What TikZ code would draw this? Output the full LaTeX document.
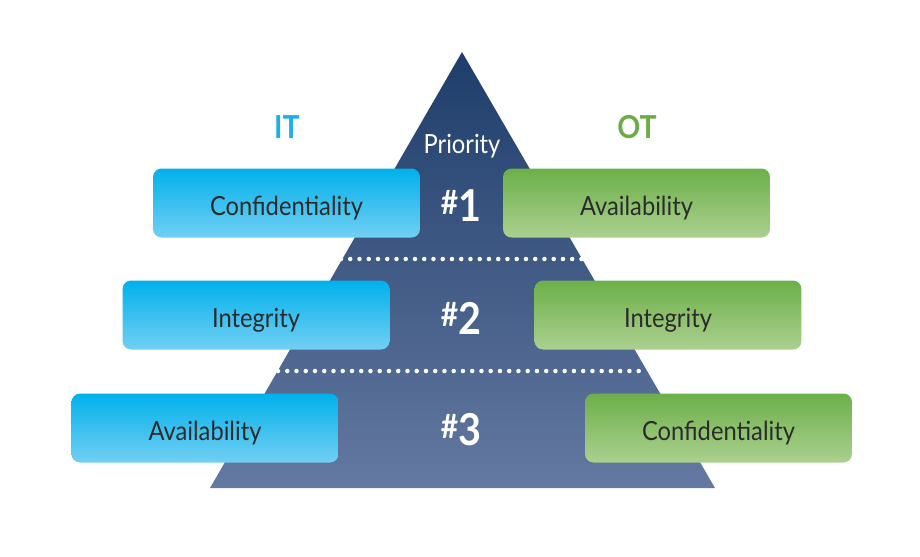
\documentclass[tikz,border=0pt]{standalone}
\usepackage{fontspec}
\setmainfont{Lato}[FakeStretch=0.9]
\usetikzlibrary{shapes,arrows}
\definecolor{navytop}{HTML}{1E3D6A}
\definecolor{navybot}{HTML}{6479A1}
\definecolor{ittop}{HTML}{00B1EB}
\definecolor{itbot}{HTML}{72CFF3}
\definecolor{ottop}{HTML}{6CB04A}
\definecolor{otbot}{HTML}{ABD08F}
\definecolor{itlabel}{HTML}{19B1E9}
\definecolor{otlabel}{HTML}{6BAD44}
\definecolor{boxtext}{HTML}{2B2B2B}
\tikzset{%
	itbox/.style    = {rectangle, rounded corners = 0.17cm, minimum width = 5.34cm,
		minimum height = 1.38cm, top color = ittop, middle color = ittop!80!itbot,
		bottom color = itbot, text = boxtext, text height = 2.7ex, text depth = 0pt,
		font = \fontsize{15}{16}\selectfont},
	otbox/.style    = {itbox, top color = ottop, middle color = ottop!75!otbot,
		bottom color = otbot},
	head/.style     = {font = \bfseries\fontsize{18}{20}\selectfont}, % IT / OT
	rank/.style     = {text = white, font = \bfseries\fontsize{25}{26}\selectfont}, % #n
	divider/.style  = {white, line width = 0.09cm, line cap = round,
		dash pattern = on 0pt off 0.185cm}
}
\newcommand{\hashrank}[1]{\raisebox{0.32ex}{\fontsize{19}{20}\selectfont\#}#1}

\begin{document}
\begin{tikzpicture}[x=0.02cm, y=-0.02cm]
			\useasboundingbox (0,0) rectangle (920,556);
			% pyramid
			\shade[top color=navytop, bottom color=navybot] (462,52) -- (715,488) -- (210,488) -- cycle;

			\coordinate (d1l) at (341,259);
			\coordinate (d1r) at (584,259);
			\coordinate (d2l) at (278,371);
			\coordinate (d2r) at (647,371);
			\draw[divider] (d1l) -- (d1r);
			\draw[divider] (d2l) -- (d2r);

			\node[head, text=itlabel] (it)       at (287,127)   {IT};
			\node[head, text=otlabel] (ot)       at (637,127)   {OT};
			\node[text=white, font=\fontsize{15}{16}\selectfont]
			                          (priority) at (462,146)   {Priority};

			\node[itbox] (itconf)  at (286.5,203) {Confidentiality};
			\node[otbox] (otavail) at (636.5,203) {Availability};
			\node[itbox] (itinteg) at (256,315)   {Integrity};
			\node[otbox] (otinteg) at (668,315)   {Integrity};
			\node[itbox] (itavail) at (205,428)   {Availability};
			\node[otbox] (otconf)  at (718.5,428) {Confidentiality};

			\node[rank] (one)   at (461,206) {\hashrank{1}};
			\node[rank] (two)   at (461,318) {\hashrank{2}};
			\node[rank] (three) at (461,430) {\hashrank{3}};
		\end{tikzpicture}
\end{document}
